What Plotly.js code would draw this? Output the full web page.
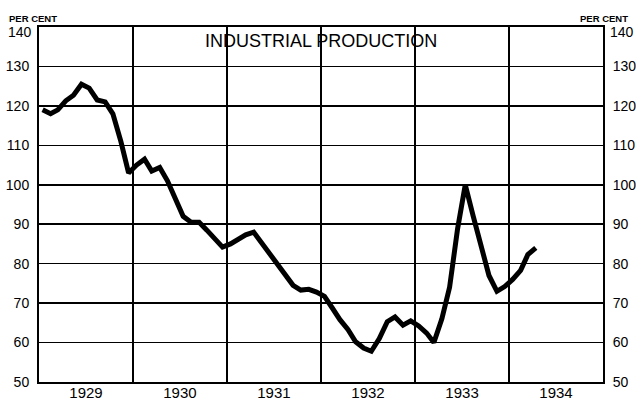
<!DOCTYPE html>
<html>
<head>
<meta charset="utf-8">
<script src="https://cdn.plot.ly/plotly-3.0.1.min.js"></script>
<style>html,body{margin:0;padding:0;background:#fff;}#chart{width:636px;height:404px;}</style>
</head>
<body>
<div id="chart"></div>
<script>
// Monthly index of industrial production, per cent
var years = [1929, 1930, 1931, 1932, 1933, 1934];
var prod1929 = [119, 118, 119, 121.3, 122.7, 125.5, 124.5, 121.5, 121, 118, 111, 103];
var prod1930 = [105, 106.5, 103.5, 104.4, 101, 96, 92, 90.5, 90.5, 88.5, 86.5, 84.2];
var prod1931 = [85, 86.3, 87.3, 88, 85.3, 82.3, 79.8, 77, 74.5, 73.3, 73.5, 72.8];
var prod1932 = [71.7, 68.7, 65.8, 63.3, 60.2, 58.6, 57.8, 61, 65.3, 66.5, 64.4, 65.5];
var prod1933 = [64.2, 62.4, 60, 66, 74, 88.8, 100, 92, 84.5, 77, 73, 74.2];
var prod1934 = [76, 78.3, 82.3, 84];
var series = [prod1929, prod1930, prod1931, prod1932, prod1933, prod1934];

var yTicks = [50, 60, 70, 80, 90, 100, 110, 120, 130, 140];
var titleText = "INDUSTRIAL PRODUCTION";
var unitText = "PER CENT";

var xs = [], ys = [];
series.forEach(function (arr, k) {
  arr.forEach(function (v, i) {
    var m = (i + 1 < 10 ? "0" : "") + (i + 1);
    xs.push(years[k] + "-" + m + "-15");
    ys.push(v);
  });
});

var tickFont = {family: "Liberation Sans, Arial, sans-serif", size: 14, color: "#000"};
var yText = yTicks.map(function (t) { return t === 140 ? "" : String(t); });

var trace = {
  x: xs, y: ys, type: "scatter", mode: "lines",
  line: {color: "#000", width: 5, shape: "linear"},
  hoverinfo: "skip", showlegend: false
};
// same series bound to the right-hand axis so that it is drawn (invisible)
var traceRight = {
  x: xs, y: ys, yaxis: "y2", type: "scatter", mode: "lines",
  line: {color: "rgba(0,0,0,0)", width: 0}, opacity: 0,
  hoverinfo: "skip", showlegend: false
};

var axisY = {
  range: [yTicks[0], yTicks[yTicks.length - 1]],
  tickvals: yTicks, ticktext: yText,
  showgrid: true, gridcolor: "#000", gridwidth: 1.5,
  zeroline: false, showline: true, linecolor: "#000", linewidth: 2,
  ticks: "", tickfont: tickFont, ticklabelstandoff: 5, fixedrange: true
};
var axisY2 = JSON.parse(JSON.stringify(axisY));
axisY2.overlaying = "y"; axisY2.side = "right"; axisY2.showgrid = false;

var layout = {
  width: 636, height: 404,
  margin: {l: 39, r: 33, t: 27, b: 22, pad: 0},
  paper_bgcolor: "#fff", plot_bgcolor: "#fff",
  xaxis: {
    type: "date",
    range: [years[0] + "-01-01", (years[years.length - 1] + 1) + "-01-01"],
    tick0: years[0] + "-01-01", dtick: "M12",
    ticklabelmode: "period", tickformat: "%Y",
    showgrid: true, gridcolor: "#000", gridwidth: 1.5,
    showline: true, mirror: true, linecolor: "#000", linewidth: 2,
    ticks: "", tickfont: {family: "Liberation Sans, Arial, sans-serif", size: 15, color: "#000"},
    ticklabelstandoff: -4, zeroline: false, fixedrange: true
  },
  yaxis: axisY,
  yaxis2: axisY2,
  annotations: [
    {text: titleText, xref: "paper", yref: "paper", x: 0.5, y: 0.96, xanchor: "center", yanchor: "middle",
     showarrow: false, font: {family: "Liberation Sans, Arial, sans-serif", size: 18, color: "#000"}},
    {text: "<b>" + unitText + "</b>", xref: "paper", yref: "paper", x: -0.011, y: 1.0, yshift: 9, xanchor: "center", yanchor: "middle",
     showarrow: false, font: {family: "Liberation Sans, Arial, sans-serif", size: 9.5, color: "#000"}},
    {text: "<b>" + unitText + "</b>", xref: "paper", yref: "paper", x: 1.002, y: 1.0, yshift: 9, xanchor: "center", yanchor: "middle",
     showarrow: false, font: {family: "Liberation Sans, Arial, sans-serif", size: 9.5, color: "#000"}},
    {text: String(yTicks[yTicks.length - 1]), xref: "paper", yref: "y", x: 0, y: yTicks[yTicks.length - 1], xanchor: "right", yanchor: "middle",
     xshift: -5, yshift: -5, showarrow: false, font: tickFont},
    {text: String(yTicks[yTicks.length - 1]), xref: "paper", yref: "y", x: 1, y: yTicks[yTicks.length - 1], xanchor: "left", yanchor: "middle",
     xshift: 5, yshift: -5, showarrow: false, font: tickFont}
  ]
};

Plotly.newPlot("chart", [trace, traceRight], layout, {staticPlot: true, displayModeBar: false});
</script>
</body>
</html>
